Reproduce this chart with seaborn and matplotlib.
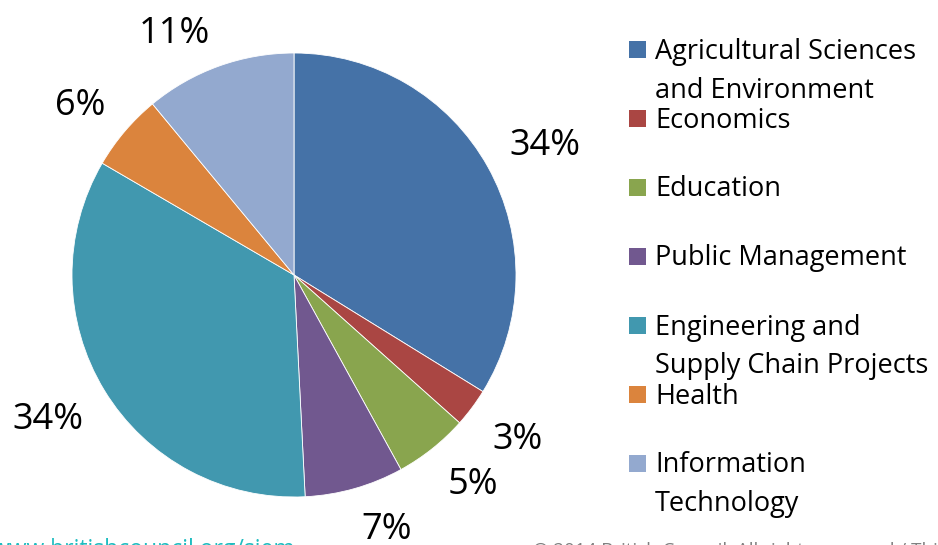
import matplotlib
matplotlib.use("Agg")
import numpy as np
import matplotlib.pyplot as plt
import seaborn as sns
from matplotlib.patches import Rectangle

# ---- data ----
categories = [
    "Agricultural Sciences\nand Environment",
    "Economics",
    "Education",
    "Public Management",
    "Engineering and\nSupply Chain Projects",
    "Health",
    "Information\nTechnology",
]
shares = [33.8, 2.8, 5.4, 7.2, 34.2, 5.6, 11.0]
colors = ["#4572A7", "#AA4643", "#89A54E", "#71588F", "#4198AF", "#DB843D", "#93A9CF"]
footer_left = "www.britishcouncil.org/siem"
footer_right = "© 2014 British Council. All rights reserved / This document"

sns.set_theme(style="white")
plt.rcParams["font.family"] = ["Open Sans", "DejaVu Sans"]

W, H = 938, 545
fig = plt.figure(figsize=(W / 100, H / 100), dpi=100)
fig.patch.set_facecolor("white")

# pie axes: center (294,275) radius 222 px
cx, cy, r = 294, 275, 222
ax = fig.add_axes([(cx - r) / W, (H - cy - r) / H, 2 * r / W, 2 * r / H])
wedges, texts, autotexts = ax.pie(
    shares,
    colors=colors,
    startangle=90,
    counterclock=False,
    autopct="%.0f%%",
    pctdistance=1.24,
    wedgeprops=dict(edgecolor="white", linewidth=0.6),
    textprops=dict(fontsize=26, color="black"),
)
ax.set_xlim(-1, 1)
ax.set_ylim(-1, 1)
ax.set_aspect("equal")
ax.axis("off")

# outside-end label placement (box corner offset from a ring outside the pie)
renderer = fig.canvas.get_renderer()
R_ring = r + 25
half_h = 13.0
inv = ax.transData.inverted()
for w, t in zip(wedges, autotexts):
    ang = np.deg2rad((w.theta1 + w.theta2) / 2)
    t.set_ha("center")
    t.set_va("baseline")
    bb = t.get_window_extent(renderer)
    hw = bb.width / 2
    px = cx + R_ring * np.cos(ang) + hw * np.sign(np.cos(ang))
    py = (H - cy) + R_ring * np.sin(ang) + half_h * np.sign(np.sin(ang))
    t.set_position(tuple(inv.transform((px, py - half_h))))

# overlay axes in pixel coordinates for legend + footer
ov = fig.add_axes([0, 0, 1, 1], zorder=5)
ov.set_xlim(0, W)
ov.set_ylim(H, 0)
ov.axis("off")
ov.patch.set_alpha(0)

row0, step = 49, 69
line_gap = 39
for i, (cat, col) in enumerate(zip(categories, colors)):
    yc = row0 + i * step
    ov.add_patch(Rectangle((629, yc - 8.5), 17, 17, facecolor=col, edgecolor="none"))
    for j, line in enumerate(cat.split("\n")):
        ov.text(655, yc + 9.5 + j * line_gap, line, fontsize=19.5, color="black",
                va="baseline", ha="left")

ov.text(-8, 538, footer_left, fontsize=16.5, color="#1FBCC0", va="top", ha="left")
ov.text(533, 542, footer_right, fontsize=13.5, color="#808080", va="top", ha="left")

fig.savefig("out.png", dpi=100)
